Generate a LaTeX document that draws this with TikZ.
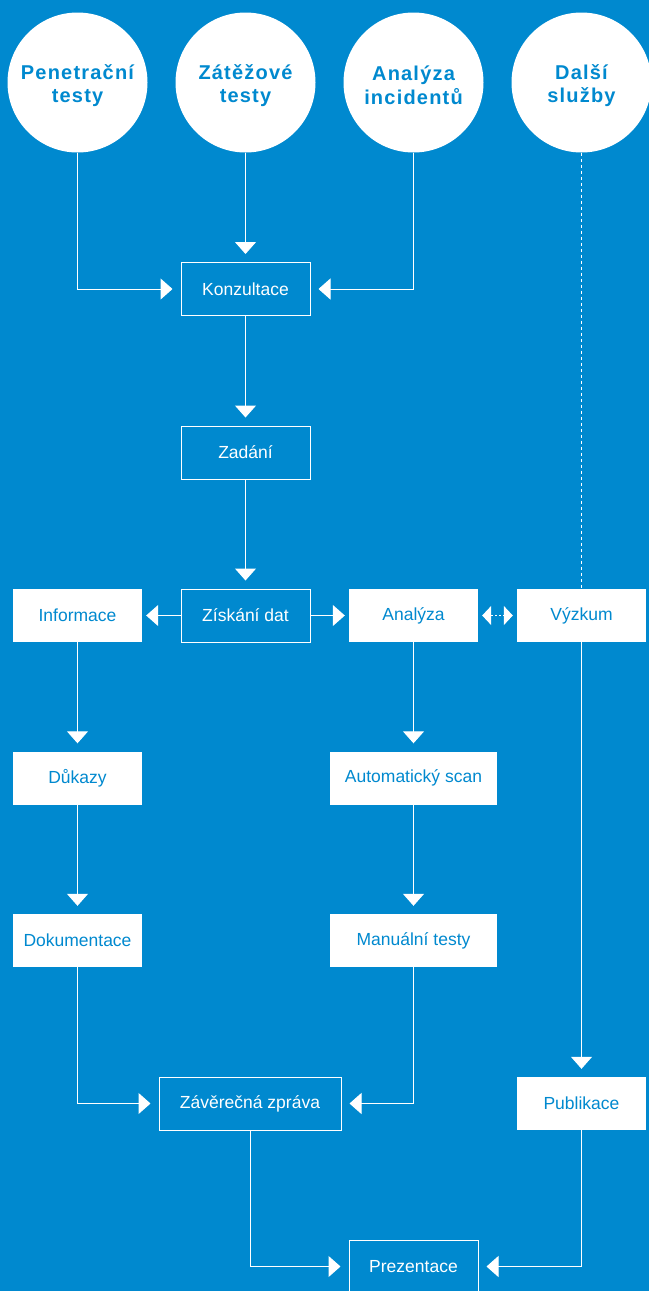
\documentclass[tikz,border=0pt]{standalone}
\usepackage{fontspec}
\setmainfont{Liberation Sans}
\usetikzlibrary{arrows.meta}
\definecolor{bg}{RGB}{0,137,207}
\begin{document}
\begin{tikzpicture}[x=1pt,y=-1pt,
 circ/.style={circle,fill=white,minimum size=140pt,inner sep=0pt},
 ctext/.style={text=bg,font=\fontsize{20}{23.5}\selectfont\bfseries\addfontfeatures{LetterSpace=6},align=center,inner sep=0pt},
 obox/.style={draw=white,line width=1pt,minimum width=129pt,minimum height=53pt,text=white,font=\fontsize{17.5}{20}\selectfont,inner sep=0pt},
 wbox/.style={fill=white,minimum width=129pt,minimum height=53pt,text=bg,font=\fontsize{17.5}{20}\selectfont,inner sep=0pt},
 ln/.style={draw=white,line width=1pt},
 tip/.tip={Triangle[width=21pt,length=12pt]},
 stip/.tip={Triangle[width=19pt,length=9pt]},
 arr/.style={ln,-tip,shorten >=8pt},
 arrs/.style={ln,-tip,shorten >=4pt},
 dsh/.style={dash pattern=on 3pt off 3pt}
]
\fill[bg] (0,0) rectangle (649,1291);
\useasboundingbox (0,0) rectangle (649,1291);

\node[circ] (c1) at (77.5,82.5) {};
\node[circ] (c2) at (245.5,82.5) {};
\node[circ] (c3) at (413.5,82.5) {};
\node[circ] (c4) at (581.5,82.5) {};
\node[ctext] (t1) at ([yshift=-3pt]c1.center) {Penetrační\\testy};
\node[ctext] (t2) at ([yshift=-3pt]c2.center) {Zátěžové\\testy};
\node[ctext] (t3) at ([yshift=-3pt]c3.center) {Analýza\\incidentů};
\node[ctext] (t4) at ([yshift=-3pt]c4.center) {Další\\služby};

\node[obox] (konz) at (245.5,289) {Konzultace};
\node[obox] (zad) at (245.5,452.5) {Zadání};
\node[obox] (zisk) at (245.5,615.5) {Získání dat};
\node[wbox] (info) at (77.5,615.5) {Informace};
\node[wbox] (anal) at (413.5,615.5) {Analýza};
\node[wbox] (vyz) at (581.5,615.5) {Výzkum};
\node[wbox] (duk) at (77.5,778) {Důkazy};
\node[wbox,minimum width=167pt] (auto) at (413.5,778) {Automatický scan};
\node[wbox] (dok) at (77.5,940.5) {Dokumentace};
\node[wbox,minimum width=167pt] (man) at (413.5,940.5) {Manuální testy};
\node[obox,minimum width=182pt] (zav) at (250,1103.5) {Závěrečná zpráva};
\node[wbox] (pub) at (581.5,1103.5) {Publikace};
\node[obox] (prez) at (413.5,1266.5) {Prezentace};

\draw[arr] (c1.south) |- (konz.west);
\draw[arr] (c2.south) -- (konz.north);
\draw[arr] (c3.south) |- (konz.east);
\draw[ln,dsh] (c4.south) -- (vyz.north);
\draw[arr] (konz.south) -- (zad.north);
\draw[arr] (zad.south) -- (zisk.north);
\draw[arrs] (zisk.west) -- (info.east);
\draw[arrs] (zisk.east) -- (anal.west);
\draw[ln,dash pattern=on 2pt off 2pt,stip-stip,shorten >=4pt,shorten <=4pt] (anal.east) -- (vyz.west);
\draw[arr] (info.south) -- (duk.north);
\draw[arr] (duk.south) -- (dok.north);
\draw[arr] (anal.south) -- (auto.north);
\draw[arr] (auto.south) -- (man.north);
\draw[arr] (vyz.south) -- (pub.north);
\draw[arr] (dok.south) |- (zav.west);
\draw[arr] (man.south) |- (zav.east);
\draw[arr] (zav.south) |- (prez.west);
\draw[arr] (pub.south) |- (prez.east);
\end{tikzpicture}
\end{document}
